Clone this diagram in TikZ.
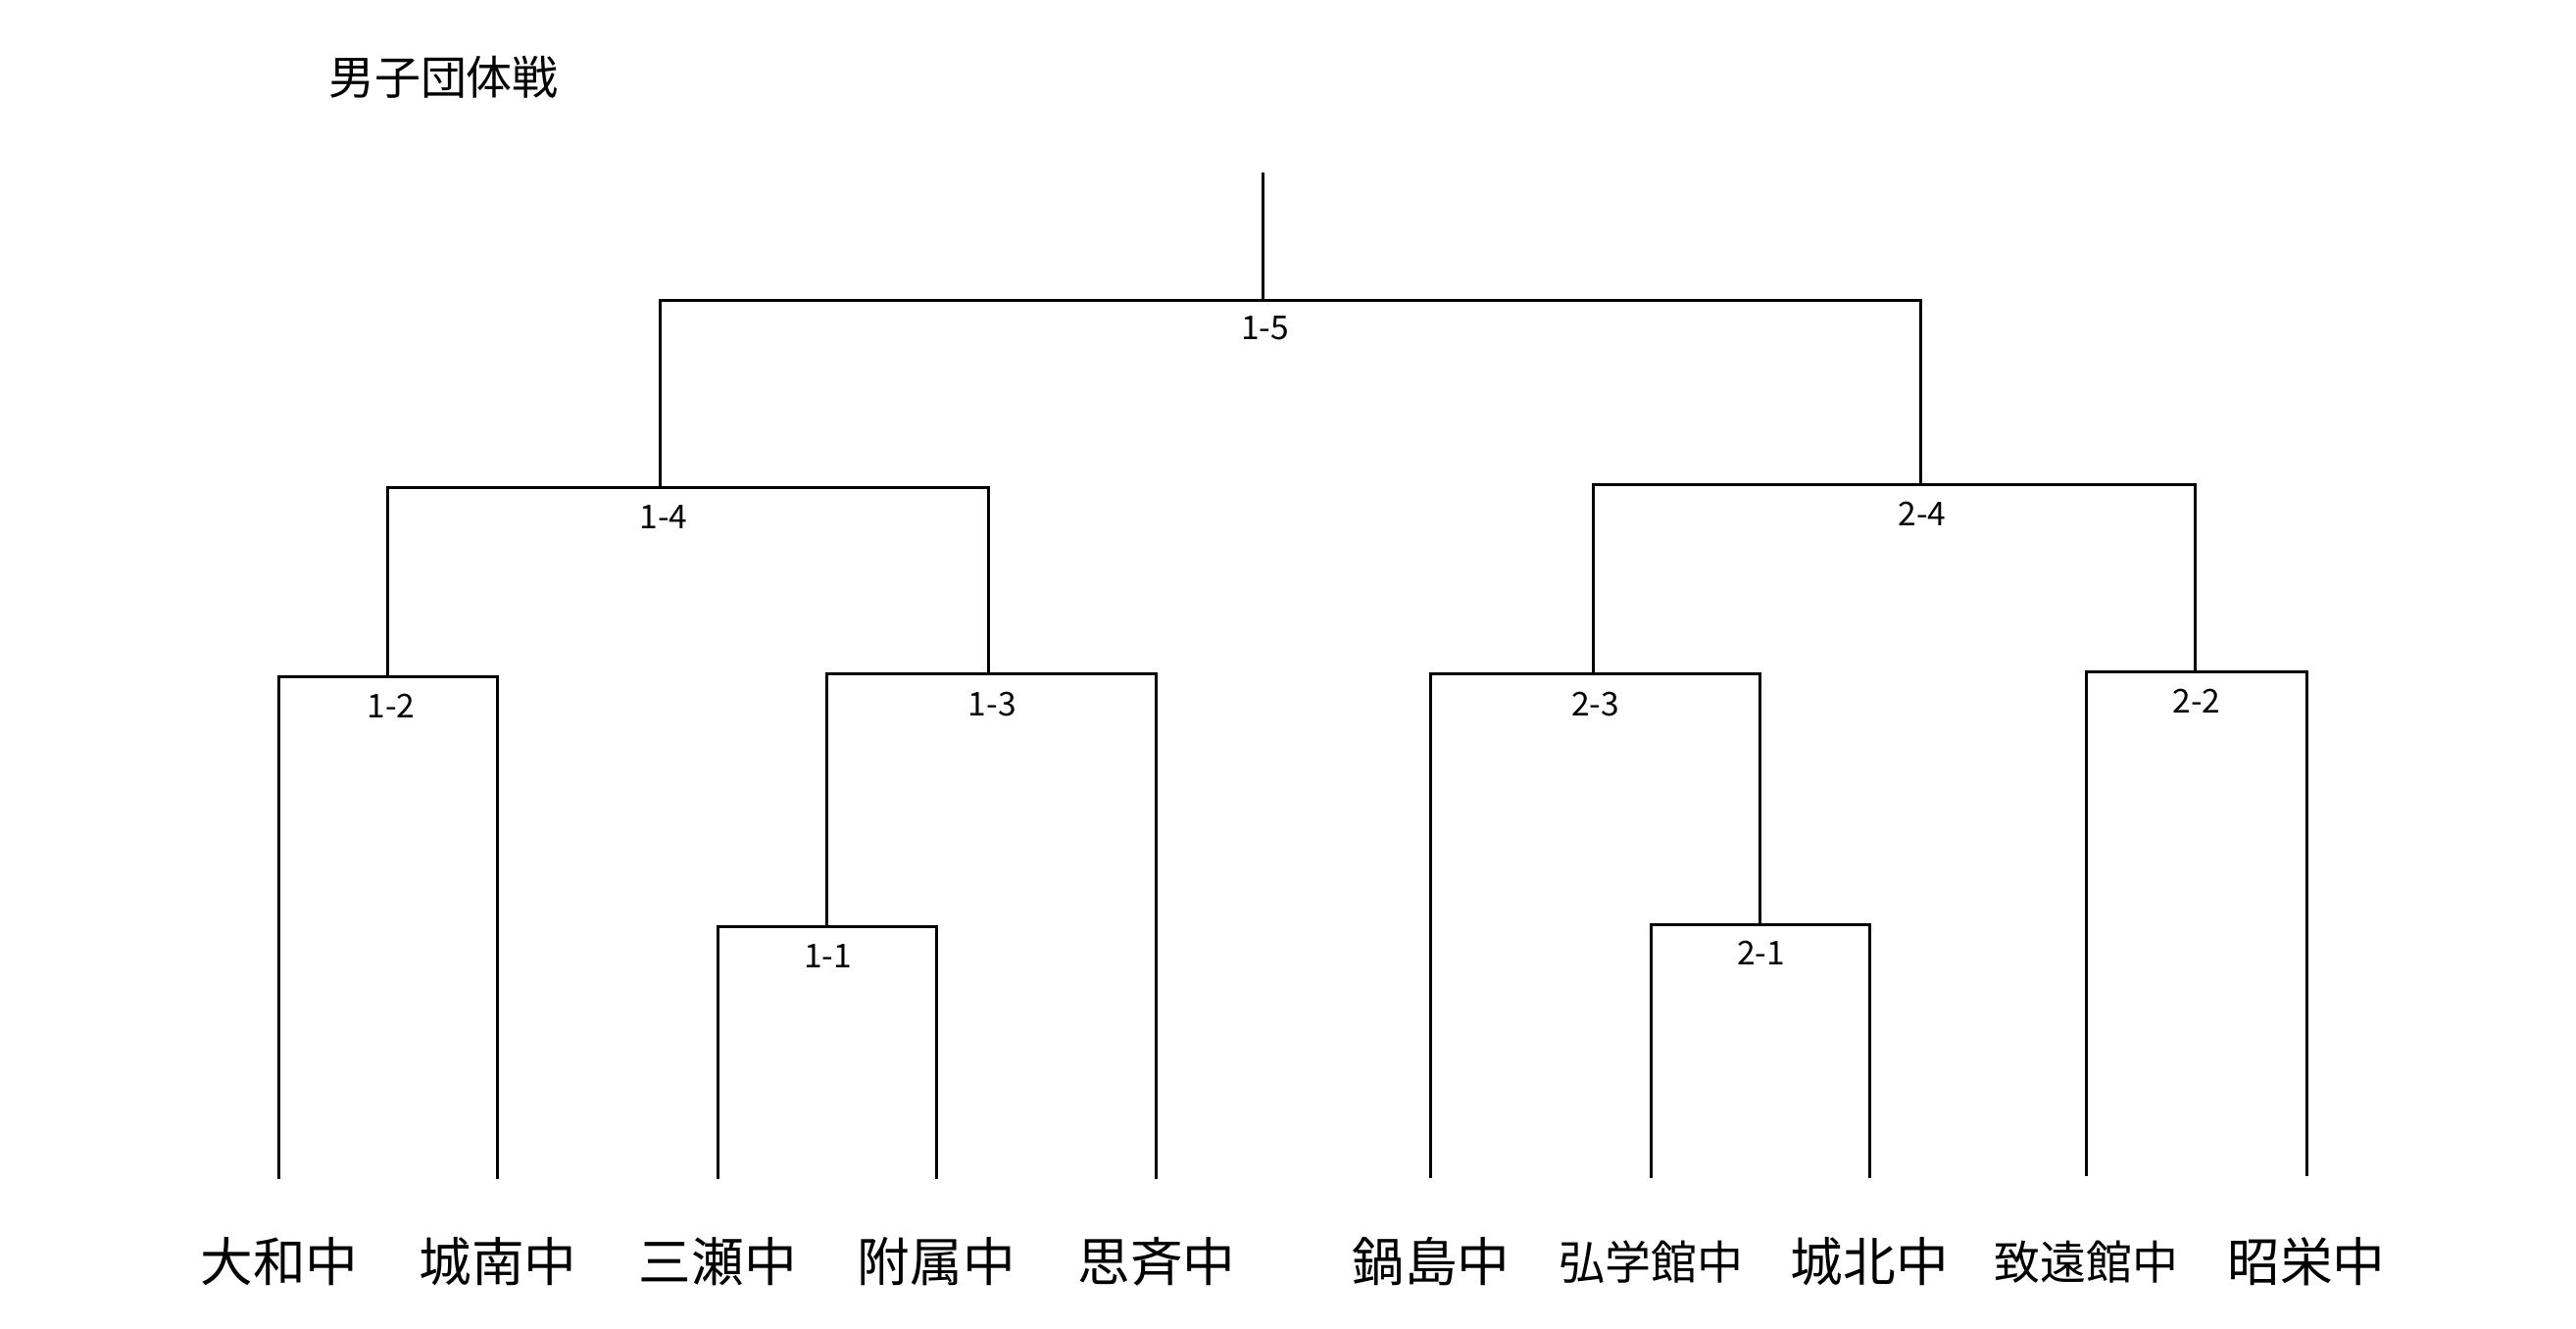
\documentclass[tikz,border=0pt]{standalone}
\usepackage{fontspec}
\setmainfont{Noto Sans CJK JP}
\begin{document}
\begin{tikzpicture}[x=0.5pt,y=-0.5pt,
  br/.style={line width=0.9pt,black},
  lbl/.style={font=\fontsize{10}{12}\selectfont,inner sep=0pt},
  team/.style={font=\fontsize{16}{18}\selectfont,inner sep=0pt},
  teams/.style={font=\fontsize{14}{16}\selectfont,inner sep=0pt}]
\useasboundingbox (0,0) rectangle (1568,809);
\node[font=\fontsize{14}{16}\selectfont] (title) at (270,47) {男子団体戦};
% team nodes
\node[team] (t1) at (170,768) {大和中};
\node[team] (t2) at (303,768) {城南中};
\node[team] (t3) at (437,768) {三瀬中};
\node[team] (t4) at (570,768) {附属中};
\node[team] (t5) at (704,768) {思斉中};
\node[team] (t6) at (871,768) {鍋島中};
\node[teams] (t7) at (1005,768) {弘学館中};
\node[team] (t8) at (1138,768) {城北中};
\node[teams] (t9) at (1270,768) {致遠館中};
\node[team] (t10) at (1404,768) {昭栄中};
% leg tops
\coordinate (l1) at (170,718); \coordinate (l2) at (303,718);
\coordinate (l3) at (437,718); \coordinate (l4) at (570,718);
\coordinate (l5) at (704,718); \coordinate (l6) at (871,717);
\coordinate (l7) at (1005,717); \coordinate (l8) at (1138,717);
\coordinate (l9) at (1270,716); \coordinate (l10) at (1404,716);
% 1-1
\draw[br] (l3) |- (504,564) -| (l4);
\node[lbl] (m11) at (504,582) {1-1};
% 1-2
\draw[br] (l1) |- (236,412) -| (l2);
\node[lbl] (m12) at (238,430) {1-2};
% 1-3
\draw[br] (503,564) |- (602,410) -| (l5);
\node[lbl] (m13) at (604,429) {1-3};
% 1-4
\draw[br] (236,412) |- (402,297) -| (602,410);
\node[lbl] (m14) at (404,315) {1-4};
% 2-1
\draw[br] (l7) |- (1071,563) -| (l8);
\node[lbl] (m21) at (1072,580) {2-1};
% 2-2
\draw[br] (l9) |- (1336,409) -| (l10);
\node[lbl] (m22) at (1337,427) {2-2};
% 2-3
\draw[br] (l6) |- (970,410) -| (1071,563);
\node[lbl] (m23) at (971,429) {2-3};
% 2-4
\draw[br] (970,410) |- (1169,295) -| (1336,409);
\node[lbl] (m24) at (1170,313) {2-4};
% 1-5
\draw[br] (402,297) |- (769,183) -| (1169,295);
\node[lbl] (m15) at (770,200) {1-5};
\draw[br] (769,183) -- (769,105);
\end{tikzpicture}
\end{document}
